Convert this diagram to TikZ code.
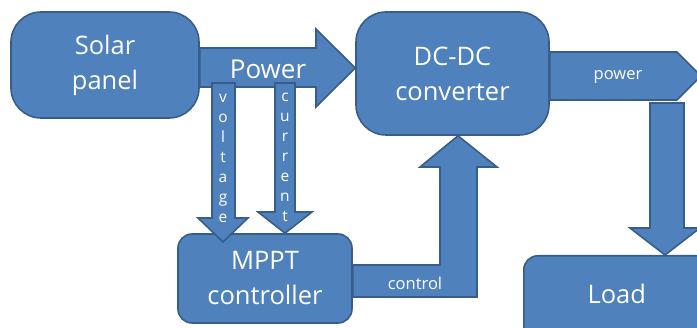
\documentclass[tikz,border=0pt]{standalone}
\usepackage{fontspec}
\setmainfont{Open Sans}
\usetikzlibrary{calc}
\definecolor{boxblue}{HTML}{4F81BD}
\definecolor{edgeblue}{HTML}{385D8A}

\begin{document}
\begin{tikzpicture}[
    x=1pt, y=-1pt,
    blk/.style={draw=edgeblue,fill=boxblue,line width=1.6pt,rounded corners=30pt,
        text=white,align=center,font=\fontsize{25.5}{35}\selectfont},
    smallblk/.style={blk,rounded corners=14pt},
    arr/.style={draw=edgeblue,fill=boxblue,line width=1.6pt,line join=miter},
    lbl/.style={text=white,font=\fontsize{16.5}{20}\selectfont},
    vlbl/.style={text=white,align=center,font=\fontsize{15.5}{20}\selectfont}
]
\useasboundingbox (0,0) rectangle (697,328);

% Blocks
\node[blk,minimum width=188pt,minimum height=106pt] (solar) at (105,65) {Solar\\panel};
\node[blk,minimum width=193pt,minimum height=123pt] (dcdc) at (452.5,73.5) {DC-DC\\converter};
\node[smallblk,minimum width=174pt,minimum height=89pt] (mppt) at (265,278.5) {MPPT\\controller};
\node[smallblk,anchor=north west,minimum width=186pt,minimum height=95pt,
    text depth=18pt] (load) at (523,255) {Load};

% Power from panel to converter
\draw[arr] (solar.east |- 0,48) -- (316,48) -- (316,29) -- (dcdc.west |- 0,68)
    -- (316,107) -- (316,87) -- (solar.east |- 0,87) -- cycle;
\node[lbl,font=\fontsize{26}{30}\selectfont] (pw) at (268,69) {Power};

% Measurements to the controller
\draw[arr] (212,83) -- (235,83) -- (235,218) -- (248,218) -- (223,242)
    -- (198,218) -- (212,218) -- cycle;
\node[vlbl] (volt) at (223,158) {v\\o\\l\\t\\a\\g\\e};
\draw[arr] (275,83) -- (295,83) -- (295,212) -- (312,212) -- (285,0 |- mppt.north)
    -- (258,212) -- (275,212) -- cycle;
\node[vlbl] (curr) at (285,157) {c\\u\\r\\r\\e\\n\\t};

% Control to the converter
\draw[arr] (mppt.east |- 0,265) -- (440,265) -- (440,167) -- (420,167)
    -- (458,0 |- dcdc.south) -- (497,167) -- (477,167) -- (477,297)
    -- (mppt.east |- 0,297) -- cycle;
\node[lbl] (ctl) at (415,283) {control};

% Power to the load
\draw[arr] (dcdc.east |- 0,52) -- (677,52) -- (701,76) -- (677,100)
    -- (dcdc.east |- 0,100) -- cycle;
\node[lbl] (pwr) at (618,77) {power};
\draw[arr] (650,103) -- (684,103) -- (684,228) -- (700,228) -- (665,0 |- load.north)
    -- (630,228) -- (650,228) -- cycle;

\end{tikzpicture}
\end{document}
